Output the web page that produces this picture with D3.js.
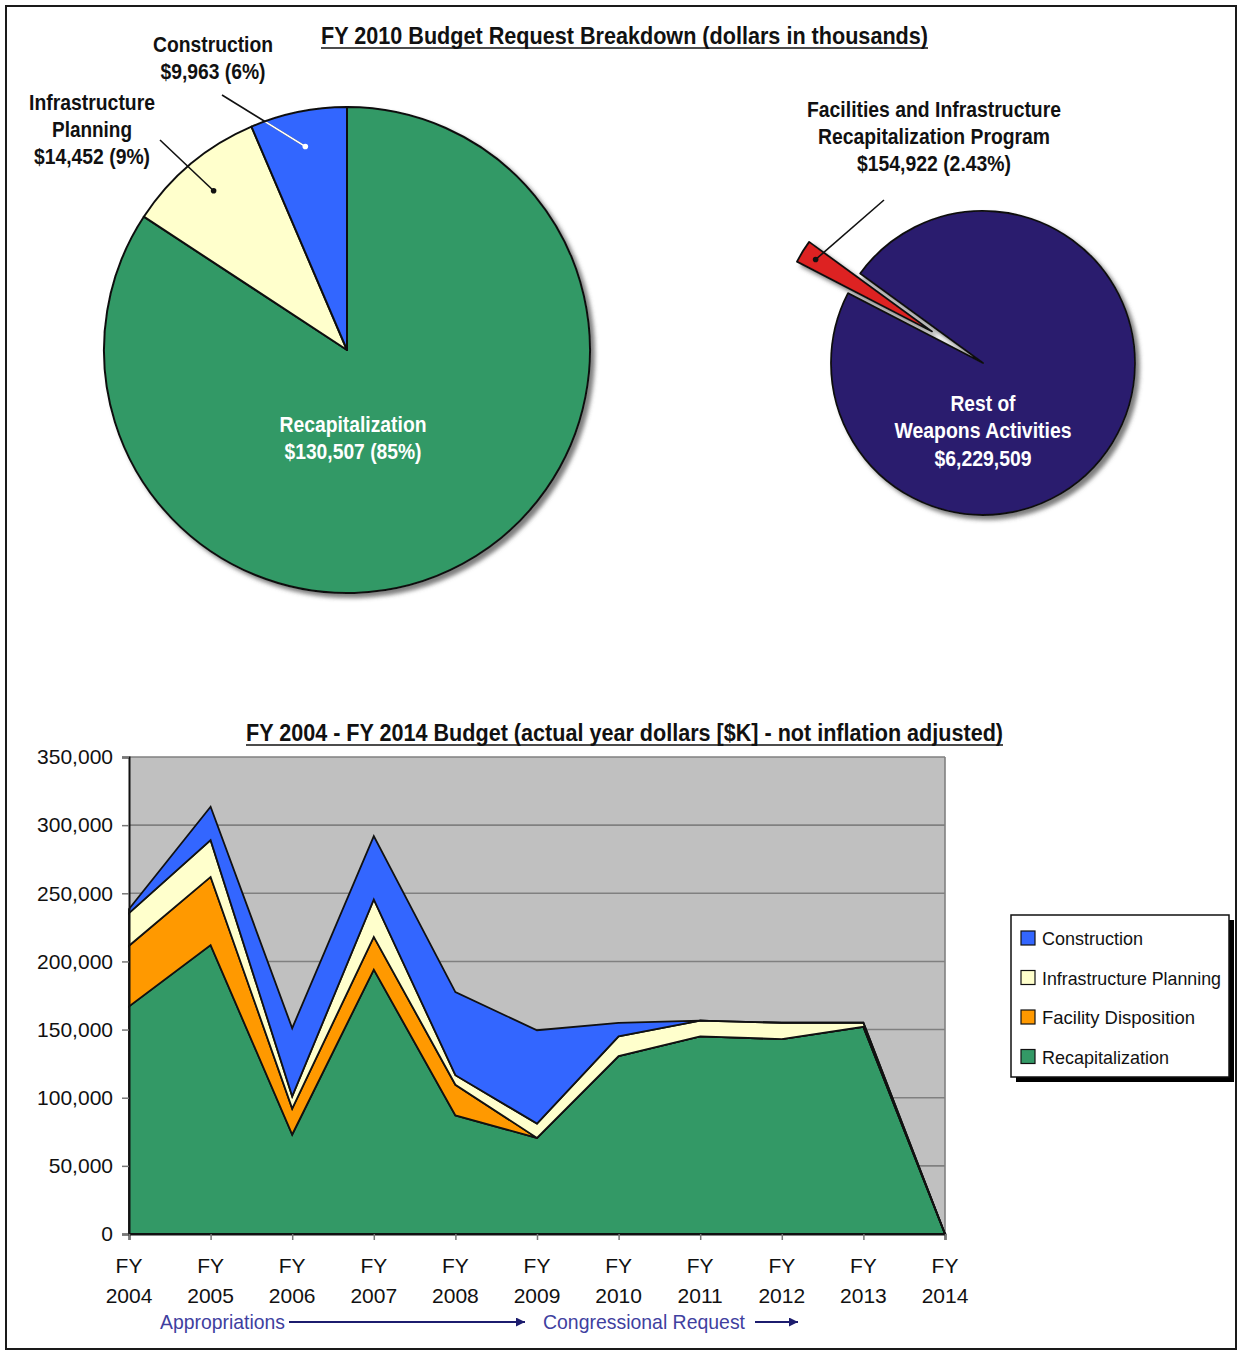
<!DOCTYPE html>
<html>
<head>
<meta charset="utf-8">
<script src="https://cdn.jsdelivr.net/npm/d3@7"></script>
<style>
  html, body { margin: 0; padding: 0; background: #ffffff; }
  svg { display: block; }
</style>
</head>
<body>
<script>
// ---- FY 2010 budget request breakdown (dollars in thousands) ----
const budgetCategories = ["Recapitalization", "Infrastructure Planning", "Construction"];
const budgetValues = [130507, 14452, 9963];
const budgetPercentLabels = ["85%", "9%", "6%"];

const weaponsCategories = ["Rest of Weapons Activities", "Facilities and Infrastructure Recapitalization Program"];
const weaponsValues = [6229509, 154922];
const weaponsPercentLabels = ["", "2.43%"];

// ---- FY 2004 - FY 2014 budget (actual year dollars, $K) ----
const fiscalYears = ["2004", "2005", "2006", "2007", "2008", "2009", "2010", "2011", "2012", "2013", "2014"];
const seriesNames = ["Recapitalization", "Facility Disposition", "Infrastructure Planning", "Construction"];
const recapitalization       = [167000, 212000, 73000, 194000, 87000, 70500, 130507, 145000, 143000, 152000, 0];
const facilityDisposition    = [44500, 50000, 19000, 24000, 22500, 0, 0, 0, 0, 0, 0];
const infrastructurePlanning = [24000, 27000, 9000, 27500, 7000, 10500, 14452, 11500, 12000, 3000, 0];
const construction           = [3000, 24500, 50000, 46500, 61000, 68500, 9963, 0, 0, 0, 0];
const yTickValues = [0, 50000, 100000, 150000, 200000, 250000, 300000, 350000];
const legendOrder = ["Construction", "Infrastructure Planning", "Facility Disposition", "Recapitalization"];

const colors = {
  "Recapitalization": "#339966",
  "Facility Disposition": "#ff9900",
  "Infrastructure Planning": "#ffffcc",
  "Construction": "#3366ff",
  "Rest of Weapons Activities": "#2a1b6e",
  "Facilities and Infrastructure Recapitalization Program": "#dd2020"
};

const W = 1239, H = 1355;
const svg = d3.select("body").append("svg").attr("width", W).attr("height", H);
const defs = svg.append("defs");

const shadow = defs.append("filter").attr("id", "pieShadow")
  .attr("x", "-10%").attr("y", "-10%").attr("width", "125%").attr("height", "125%");
shadow.append("feDropShadow").attr("dx", 4).attr("dy", 4).attr("stdDeviation", 2)
  .attr("flood-color", "#555").attr("flood-opacity", 0.75);

const boldFont = "'Liberation Sans Narrow', 'Arial Narrow', 'Liberation Sans', Arial, sans-serif";
const plainFont = "'Liberation Sans', Arial, sans-serif";
const fmt = d3.format(",");

// Text helper: fits a string into a fixed width
function text(g, x, y, str, o = {}) {
  const t = g.append("text")
    .attr("x", x).attr("y", y)
    .attr("text-anchor", o.anchor || "middle")
    .attr("font-family", o.bold === false ? plainFont : boldFont)
    .attr("font-weight", o.bold === false ? "normal" : "bold")
    .attr("font-size", o.size || 21)
    .attr("fill", o.fill || "#111")
    .text(str);
  if (o.width) t.attr("textLength", o.width).attr("lengthAdjust", "spacingAndGlyphs");
  return t;
}

// Page frame
svg.append("rect").attr("x", 6).attr("y", 6).attr("width", 1230).attr("height", 1343)
  .attr("fill", "none").attr("stroke", "#1a1a1a").attr("stroke-width", 2);

// ---- Top title ----
text(svg, 624.5, 44, "FY 2010 Budget Request Breakdown (dollars in thousands)", { width: 607, size: 23 });
svg.append("line").attr("x1", 321).attr("x2", 928).attr("y1", 48).attr("y2", 48)
  .attr("stroke", "#111").attr("stroke-width", 1.6);

// ---- Left pie: FIRP breakdown ----
const p1 = { cx: 347, cy: 350, r: 243 };
const pie1 = d3.pie().sort(null).value(d => d.value)
  .startAngle(0).endAngle(2 * Math.PI);
const budgetData = budgetCategories.map((c, i) => ({ name: c, value: budgetValues[i], pct: budgetPercentLabels[i] }));
const arcs1 = pie1(budgetData);
const arc1 = d3.arc().innerRadius(0).outerRadius(p1.r);
const g1 = svg.append("g").attr("transform", `translate(${p1.cx},${p1.cy})`);
g1.append("g").attr("filter", "url(#pieShadow)")
  .selectAll("path").data(arcs1).join("path")
  .attr("d", arc1)
  .attr("fill", d => colors[d.data.name])
  .attr("stroke", "#111").attr("stroke-width", 2).attr("stroke-linejoin", "round");

defs.append("clipPath").attr("id", "pie1Clip")
  .append("circle").attr("r", p1.r - 1);

const dotArc1 = d3.arc().innerRadius(p1.r * 0.855).outerRadius(p1.r * 0.855);

// Recapitalization label inside slice
text(g1, 6, 82, budgetData[0].name, { width: 147, fill: "#fff", size: 22 });
text(g1, 6, 109, `$${fmt(budgetData[0].value)} (${budgetData[0].pct})`, { width: 137, fill: "#fff", size: 22 });

// Construction callout
{
  const d = arcs1[2];
  const [ex, ey] = dotArc1.centroid(d);
  const sx = 222 - p1.cx, sy = 95 - p1.cy;
  g1.append("line").attr("x1", sx).attr("y1", sy).attr("x2", ex).attr("y2", ey)
    .attr("stroke", "#111").attr("stroke-width", 1.6);
  g1.append("line").attr("x1", sx).attr("y1", sy).attr("x2", ex).attr("y2", ey)
    .attr("stroke", "#fff").attr("stroke-width", 1.6).attr("clip-path", "url(#pie1Clip)");
  g1.append("circle").attr("cx", ex).attr("cy", ey).attr("r", 2.8).attr("fill", "#fff");
  text(svg, 213, 52, d.data.name, { width: 120, size: 22 });
  text(svg, 213, 79, `$${fmt(d.data.value)} (${d.data.pct})`, { width: 105, size: 22 });
}
// Infrastructure Planning callout
{
  const d = arcs1[1];
  const [ex, ey] = dotArc1.centroid(d);
  g1.append("line").attr("x1", 160 - p1.cx).attr("y1", 140 - p1.cy).attr("x2", ex).attr("y2", ey)
    .attr("stroke", "#111").attr("stroke-width", 1.6);
  g1.append("circle").attr("cx", ex).attr("cy", ey).attr("r", 2.8).attr("fill", "#111");
  text(svg, 92, 110, "Infrastructure", { width: 126, size: 22 });
  text(svg, 92, 137, "Planning", { width: 80, size: 22 });
  text(svg, 92, 164, `$${fmt(d.data.value)} (${d.data.pct})`, { width: 116, size: 22 });
}

// ---- Right pie: share of Weapons Activities ----
const p2 = { cx: 983, cy: 363, r: 152, explode: 60 };
const rot = -53.9 * Math.PI / 180;
const pie2 = d3.pie().sort(null).value(d => d.value)
  .startAngle(rot).endAngle(rot + 2 * Math.PI);
const weaponsData = weaponsCategories.map((c, i) => ({ name: c, value: weaponsValues[i], pct: weaponsPercentLabels[i] }));
const arcs2 = pie2(weaponsData);
const arc2 = d3.arc().innerRadius(0).outerRadius(p2.r);
const g2 = svg.append("g").attr("transform", `translate(${p2.cx},${p2.cy})`);
const g2s = g2.append("g").attr("filter", "url(#pieShadow)");
function explodeOffset(d, dist) {
  const a = (d.startAngle + d.endAngle) / 2;
  return [Math.sin(a) * dist, -Math.cos(a) * dist];
}
g2s.selectAll("path").data(arcs2).join("path")
  .attr("d", arc2)
  .attr("transform", (d, i) => {
    const [ox, oy] = i === 1 ? explodeOffset(d, p2.explode) : [0, 0];
    return `translate(${ox},${oy})`;
  })
  .attr("fill", d => colors[d.data.name])
  .attr("stroke", "#111").attr("stroke-width", 1.8).attr("stroke-linejoin", "round");

{
  const d = arcs2[1];
  const [ox, oy] = explodeOffset(d, p2.explode);
  const dotArc2 = d3.arc().innerRadius(p2.r * 0.9).outerRadius(p2.r * 0.9);
  const [cx, cy] = dotArc2.centroid(d);
  const ex = cx + ox, ey = cy + oy;
  g2.append("line").attr("x1", 884 - p2.cx).attr("y1", 200 - p2.cy).attr("x2", ex).attr("y2", ey)
    .attr("stroke", "#111").attr("stroke-width", 1.6);
  g2.append("circle").attr("cx", ex).attr("cy", ey).attr("r", 2.8).attr("fill", "#111");
  text(svg, 934, 117, "Facilities and Infrastructure", { width: 254, size: 22 });
  text(svg, 934, 144, "Recapitalization Program", { width: 232, size: 22 });
  text(svg, 934, 171, `$${fmt(d.data.value)} (${d.data.pct})`, { width: 154, size: 22 });
}
text(g2, 0, 48, "Rest of", { width: 65, fill: "#fff", size: 22 });
text(g2, 0, 75, "Weapons Activities", { width: 177, fill: "#fff", size: 22 });
text(g2, 0, 103, `$${fmt(weaponsData[0].value)}`, { width: 97, fill: "#fff", size: 22 });

// ---- Bottom chart: stacked area FY 2004 - FY 2014 ----
const plot = { left: 129, right: 945, top: 757, bottom: 1234 };
text(svg, 624.5, 741, "FY 2004 - FY 2014 Budget (actual year dollars [$K] - not inflation adjusted)", { width: 757, size: 23 });
svg.append("line").attr("x1", 246).attr("x2", 1003).attr("y1", 745).attr("y2", 745)
  .attr("stroke", "#111").attr("stroke-width", 1.6);

const x = d3.scalePoint().domain(fiscalYears).range([plot.left, plot.right]);
const y = d3.scaleLinear().domain([0, 350000]).range([plot.bottom, plot.top]);

svg.append("rect").attr("x", plot.left).attr("y", plot.top)
  .attr("width", plot.right - plot.left).attr("height", plot.bottom - plot.top)
  .attr("fill", "#c0c0c0");

// gridlines
svg.append("g").selectAll("line").data(yTickValues.filter(v => v > 0)).join("line")
  .attr("x1", plot.left).attr("x2", plot.right)
  .attr("y1", d => y(d)).attr("y2", d => y(d))
  .attr("stroke", "#808080").attr("stroke-width", 1.6);
svg.append("line").attr("x1", plot.right).attr("x2", plot.right)
  .attr("y1", plot.top).attr("y2", plot.bottom)
  .attr("stroke", "#808080").attr("stroke-width", 1.6);

const table = fiscalYears.map((fy, i) => ({
  fy,
  "Recapitalization": recapitalization[i],
  "Facility Disposition": facilityDisposition[i],
  "Infrastructure Planning": infrastructurePlanning[i],
  "Construction": construction[i]
}));
const stacked = d3.stack().keys(seriesNames)(table);
const area = d3.area()
  .x(d => x(d.data.fy))
  .y0(d => y(d[0]))
  .y1(d => y(d[1]));

svg.append("g").selectAll("path").data(stacked).join("path")
  .attr("d", area)
  .attr("fill", d => colors[d.key])
  .attr("stroke", "#111").attr("stroke-width", 1.8).attr("stroke-linejoin", "miter");

// y axis
const yAxis = d3.axisLeft(y).tickValues(yTickValues).tickFormat(fmt).tickSize(7).tickPadding(9);
const yg = svg.append("g").attr("transform", `translate(${plot.left},0)`).call(yAxis);
yg.select(".domain").attr("stroke", "#111").attr("stroke-width", 2);
yg.selectAll(".tick line").attr("stroke", "#777").attr("stroke-width", 1.5);
yg.selectAll(".tick text").attr("font-family", plainFont).attr("font-size", 21).attr("fill", "#111");

// x axis
const xAxis = d3.axisBottom(x).tickSize(6).tickFormat("");
const xg = svg.append("g").attr("transform", `translate(0,${plot.bottom})`).call(xAxis);
xg.select(".domain").attr("stroke", "#111").attr("stroke-width", 2);
xg.selectAll(".tick line").attr("stroke", "#777").attr("stroke-width", 1.5);
const xl = svg.append("g");
fiscalYears.forEach(fy => {
  text(xl, x(fy), 1273, "FY", { bold: false, size: 21 });
  text(xl, x(fy), 1303, fy, { bold: false, size: 21 });
});

// appropriation / request arrows
defs.append("marker").attr("id", "arrowHead")
  .attr("viewBox", "0 0 10 10").attr("refX", 10).attr("refY", 5)
  .attr("markerWidth", 9).attr("markerHeight", 9).attr("markerUnits", "userSpaceOnUse")
  .attr("orient", "auto")
  .append("path").attr("d", "M0,0 L10,5 L0,10 Z").attr("fill", "#1c1c6e");
text(svg, 160, 1329, "Appropriations", { bold: false, anchor: "start", width: 125, size: 21, fill: "#3f3f9f" });
svg.append("line").attr("x1", 289).attr("x2", 525).attr("y1", 1322).attr("y2", 1322)
  .attr("stroke", "#1c1c6e").attr("stroke-width", 2).attr("marker-end", "url(#arrowHead)");
text(svg, 543, 1329, "Congressional Request", { bold: false, anchor: "start", width: 202, size: 21, fill: "#3f3f9f" });
svg.append("line").attr("x1", 755).attr("x2", 798).attr("y1", 1322).attr("y2", 1322)
  .attr("stroke", "#1c1c6e").attr("stroke-width", 2).attr("marker-end", "url(#arrowHead)");

// legend
const lg = svg.append("g").attr("transform", "translate(1011,915)");
lg.append("rect").attr("x", 5).attr("y", 5).attr("width", 218).attr("height", 162).attr("fill", "#000");
lg.append("rect").attr("width", 218).attr("height", 162).attr("fill", "#fff")
  .attr("stroke", "#111").attr("stroke-width", 1.5);
const legendWidths = { "Construction": 101, "Infrastructure Planning": 179, "Facility Disposition": 153, "Recapitalization": 127 };
legendOrder.forEach((name, i) => {
  const cy = 23 + i * 39.5;
  lg.append("rect").attr("x", 10).attr("y", cy - 7).attr("width", 14).attr("height", 14)
    .attr("fill", colors[name]).attr("stroke", "#111").attr("stroke-width", 1.2);
  text(lg, 31, cy + 7, name, { bold: false, anchor: "start", size: 19, width: legendWidths[name] });
});
</script>
</body>
</html>
